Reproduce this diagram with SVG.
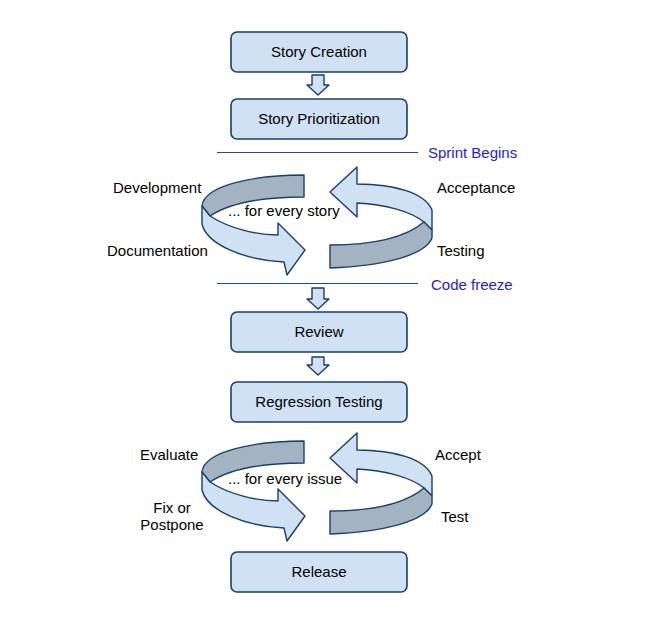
<svg xmlns="http://www.w3.org/2000/svg" width="661" height="620" viewBox="0 0 661 620">
<style>
.box{fill:#cfe1f3;stroke:#1b3f66;stroke-width:1.6}
.lt{fill:#cfe1f3;stroke:#1b3f66;stroke-width:1.4;stroke-linejoin:round}
.dk{fill:#a3b3c2;stroke:#1b3f66;stroke-width:1.4;stroke-linejoin:round}
.sep{stroke:#1f4e79;stroke-width:1.2;fill:none}
text{font-family:"Liberation Sans",Arial,sans-serif;font-size:15px;fill:#000}
.c{text-anchor:middle}
.blue{fill:#1c1ce0}
</style>
<rect width="661" height="620" fill="#fff"/>
<g id="story-creation"><rect class="box" x="231" y="32" width="176" height="40" rx="6"/><text class="c" x="319" y="57">Story Creation</text></g>
<g id="story-prioritization"><rect class="box" x="231" y="99" width="176" height="40" rx="6"/><text class="c" x="319" y="124">Story Prioritization</text></g>
<g id="review"><rect class="box" x="231" y="312" width="176" height="40" rx="6"/><text class="c" x="319" y="337">Review</text></g>
<g id="regression-testing"><rect class="box" x="231" y="382" width="176" height="40" rx="6"/><text class="c" x="319" y="407">Regression Testing</text></g>
<g id="release"><rect class="box" x="231" y="552" width="176" height="40" rx="6"/><text class="c" x="319" y="577">Release</text></g>
<g id="sprint-begins"><line class="sep" x1="217" y1="152.5" x2="418" y2="152.5"/><text class="blue" x="428" y="158">Sprint Begins</text></g>
<g id="code-freeze"><line class="sep" x1="217" y1="283.5" x2="418" y2="283.5"/><text class="blue" x="431" y="290">Code freeze</text></g>
<g id="connectors">
<path class="lt" d="M312,75 H324 V85 H329 L318,95 L307,85 H312 Z"/>
<path class="lt" d="M312,288 H324 V299 H329 L318,309 L307,299 H312 Z"/>
<path class="lt" d="M312,357 H324 V365 H329 L318,375 L307,365 H312 Z"/>
</g>
<g id="story-cycle">
<path class="dk" d="M304,175 C255,175 204,185 202,206 L210,216 C228,204 260,197 304,197 Z"/>
<path class="lt" d="M202,206 L210,216 C230,229 258,235 278,235 L278,223 L305,250 L287,275 L284,262 C245,260 207,245 202,224 Z"/>
<path class="lt" d="M330,192 L357,167 L357,184 C395,184 425,193 432,210 L432,230 L424,222 C412,212 385,204 357,203 L357,217 Z"/>
<path class="dk" d="M330,245 C370,245 405,238 424,222 L432,230 L432,238 C425,255 385,266 330,268 Z"/>
<text x="228" y="216">... for every story</text>
</g>
<g id="issue-cycle" transform="translate(0,266)">
<path class="dk" d="M304,175 C255,175 204,185 202,206 L210,216 C228,204 260,197 304,197 Z"/>
<path class="lt" d="M202,206 L210,216 C230,229 258,235 278,235 L278,223 L305,250 L287,275 L284,262 C245,260 207,245 202,224 Z"/>
<path class="lt" d="M330,192 L357,167 L357,184 C395,184 425,193 432,210 L432,230 L424,222 C412,212 385,204 357,203 L357,217 Z"/>
<path class="dk" d="M330,245 C370,245 405,238 424,222 L432,230 L432,238 C425,255 385,266 330,268 Z"/>
<text x="228" y="218">... for every issue</text>
</g>
<g id="labels">
<text x="113" y="193">Development</text>
<text x="107" y="256">Documentation</text>
<text x="437" y="193">Acceptance</text>
<text x="437" y="256">Testing</text>
<text x="140" y="460">Evaluate</text>
<text class="c" x="172" y="513">Fix or</text>
<text class="c" x="172" y="530">Postpone</text>
<text x="435" y="460">Accept</text>
<text x="441" y="522">Test</text>
</g>
</svg>
